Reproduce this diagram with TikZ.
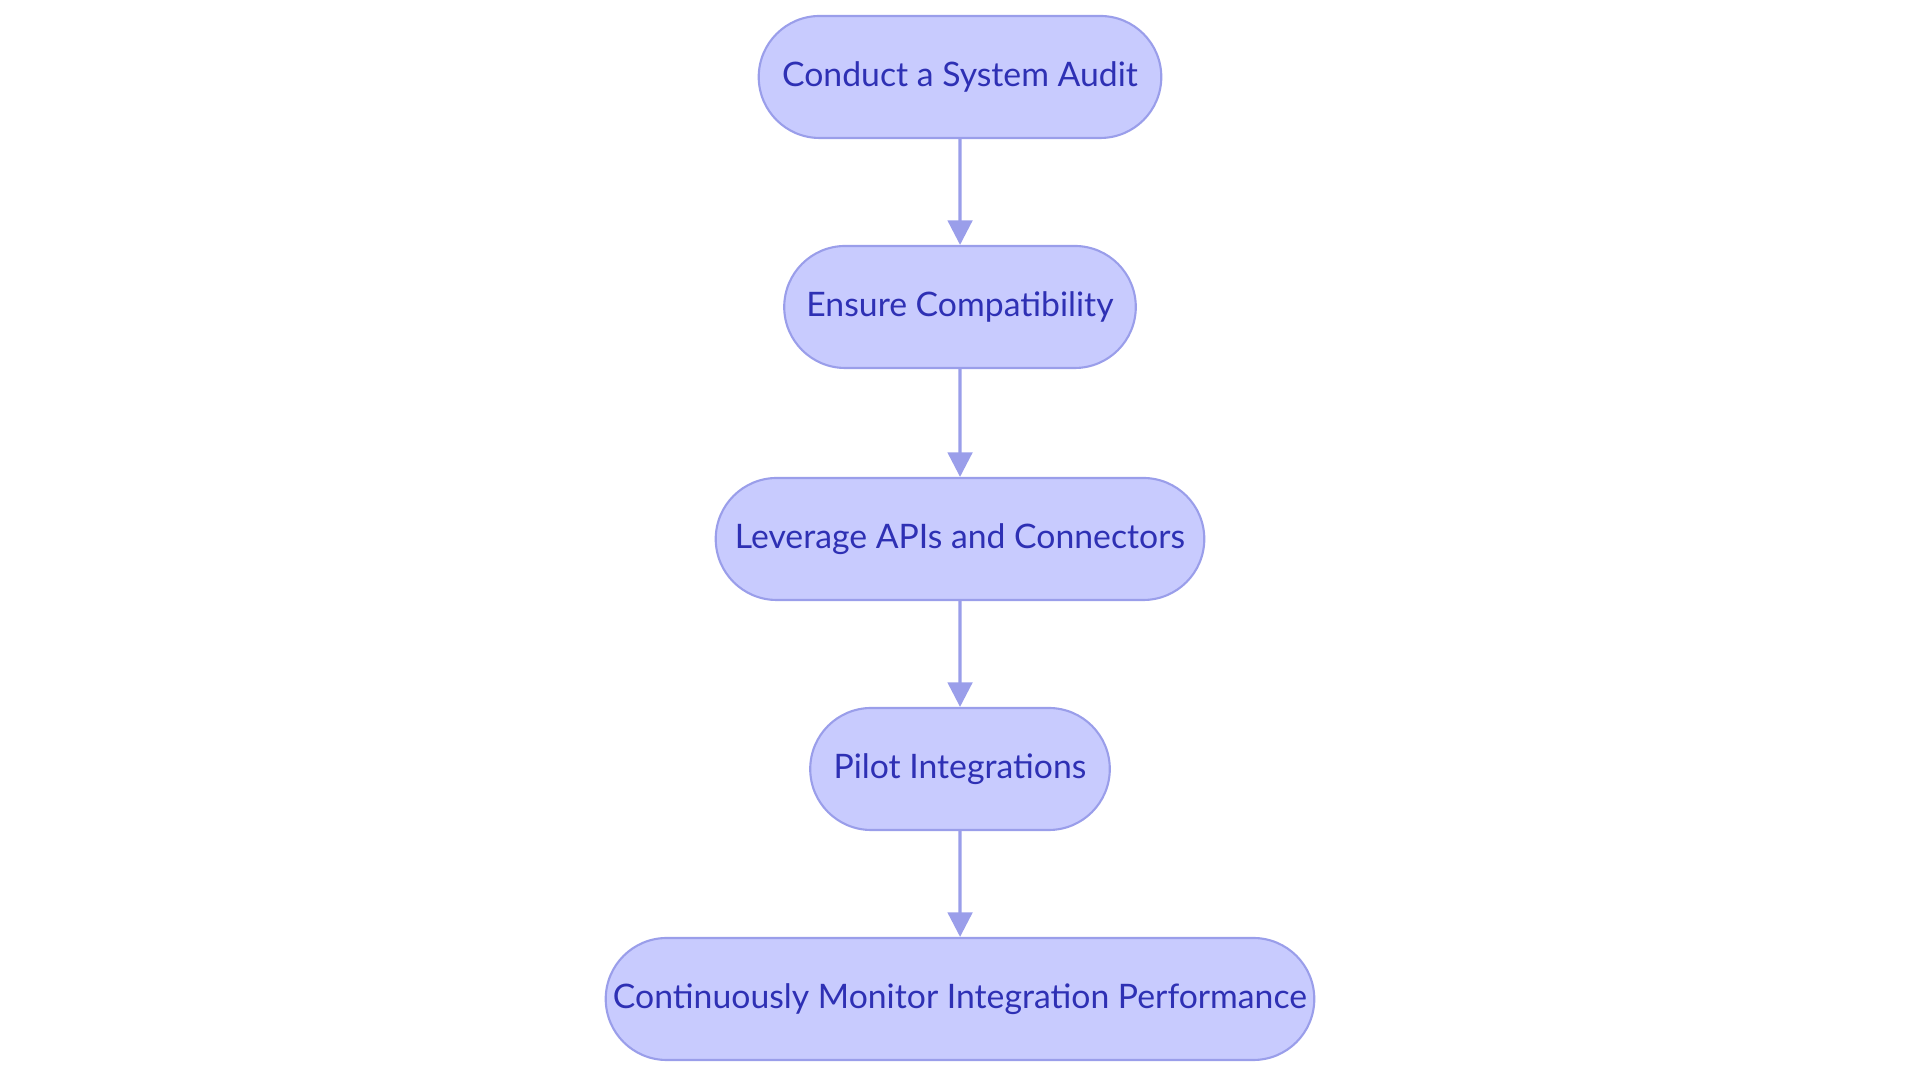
\documentclass[tikz,border=0pt]{standalone}
\usepackage{fontspec}
\setmainfont{Lato}
\usetikzlibrary{shapes.misc,arrows.meta}
\definecolor{stepfill}{HTML}{C8CBFE}
\definecolor{stepline}{HTML}{9A9EEA}
\definecolor{steptext}{HTML}{2E30B4}
\tikzset{
	stage/.style={rounded rectangle, draw=stepline, fill=stepfill, line width=0.6pt,
		text=steptext, minimum height=1.22cm, font=\fontsize{9.6pt}{11pt}\selectfont},
	flow/.style={-{Triangle[length=7pt,width=7pt]}, draw=stepline, line width=0.9pt}
}
\begin{document}
\begin{tikzpicture}
	\useasboundingbox (0,0) rectangle (19.2,10.83);
	\node[stage, minimum width=4.26cm] (audit) at (9.6,10.06) {Conduct a System Audit};
	\node[stage, minimum width=3.75cm] (compat) at (9.6,7.76) {Ensure Compatibility};
	\node[stage, minimum width=5.12cm] (apis) at (9.6,5.44) {Leverage APIs and Connectors};
	\node[stage, minimum width=3.23cm] (pilot) at (9.6,3.14) {Pilot Integrations};
	\node[stage, minimum width=7.32cm] (monitor) at (9.6,0.84) {Continuously Monitor Integration Performance};
	\draw[flow] (audit) -- (compat);
	\draw[flow] (compat) -- (apis);
	\draw[flow] (apis) -- (pilot);
	\draw[flow] (pilot) -- (monitor);
\end{tikzpicture}
\end{document}
